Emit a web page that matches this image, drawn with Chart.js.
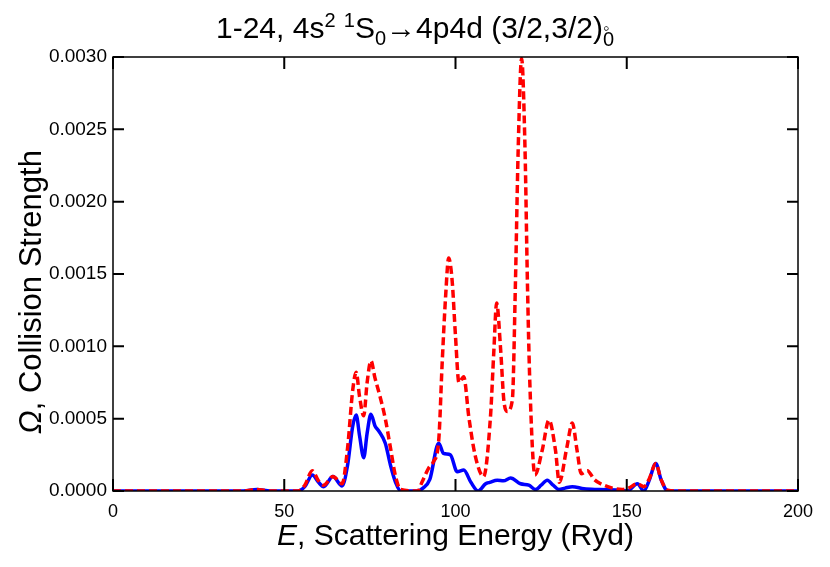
<!DOCTYPE html>
<html>
<head>
<meta charset="utf-8">
<script src="https://cdn.jsdelivr.net/npm/chart.js@4.4.1/dist/chart.umd.min.js"></script>
<style>
  html, body { margin: 0; padding: 0; background: #fff; }
  #wrap { width: 830px; height: 567px; }
</style>
</head>
<body>
<div id="wrap"><canvas id="myChart"></canvas></div>
<script>
// blue solid curve
const solidE = [0, 38, 42, 46, 54, 56, 58.2, 60, 61.5, 64.2, 66.9, 68.5, 70, 71, 72, 73.2, 74.2, 75.3, 76.5, 77.6,
  79.5, 81, 82.5, 84, 89, 90.5, 92.5, 95.1, 96.5, 98.5, 100.5, 102.4, 104.5, 106.6, 108.8, 110, 112.2, 114, 116.1, 119,
  121.4, 123.4, 125, 126.8, 128.5, 130.2, 132, 134.1, 137.5, 142, 148.7, 150.2, 153.1, 155, 156.5, 158.5, 160, 162, 200];
const solidOmega = [0, 0, 0.00001, 0, 0, 0.00003, 0.00011, 0.00006, 0.00003, 0.0001, 0.000035, 0.00018, 0.00045, 0.000525, 0.00038, 0.00023, 0.0004, 0.00053, 0.00045, 0.000415,
  0.00033, 0.00018, 0.00006, 0, 0, 0.00002, 0.00008, 0.00033, 0.00026, 0.00025, 0.000133, 0.000145, 0.00006, 0, 0.00005, 0.00006, 0.000075, 0.00007, 0.00009, 0.00005,
  0.00004, 0.00001, 0.00004, 0.000075, 0.00004, 0.00001, 0.00002, 0.00003, 0.000015, 0.00001, 0.000005, 0, 0.00005, 0, 0.00007, 0.00019, 0.00008, 0, 0];

// red dashed curve
const dashedE = [0, 38, 42, 46, 54, 56, 58.2, 60, 61.5, 64.2, 66.9, 68.5, 70, 71, 72, 73.2, 74.2, 75.3, 76.5, 78,
  79.5, 81, 82.5, 84, 89, 90.2, 92.2, 93.5, 95.1, 96.1, 97.1, 98, 99, 100, 101, 102.4, 103.9, 105.8, 108.2, 110.2,
  111.2, 112, 113.2, 114.1, 115.1, 116.6, 117.5, 118.3, 119.3, 120.3, 121, 121.7, 123.2, 125.3, 127.3, 129.2, 130.3, 132.5, 134.1, 135.5,
  136.7, 138.5, 140.5, 142.4, 145.8, 148.7, 150.5, 153.1, 155, 156.5, 158.5, 160, 162, 165, 200];
const dashedOmega = [0, 0, 0.00001, 0, 0, 0.00004, 0.00014, 0.00007, 0.00004, 0.0001, 0.00005, 0.0003, 0.0007, 0.00082, 0.00065, 0.00052, 0.00075, 0.0009, 0.00078, 0.00065,
  0.0005, 0.0003, 0.0001, 0.00001, 0, 0.00006, 0.00016, 0.0002, 0.00035, 0.00088, 0.00134, 0.00161, 0.00146, 0.00107, 0.00075, 0.00079, 0.00051, 0.00024, 0.0001, 0.00051,
  0.00097, 0.0013, 0.00097, 0.00063, 0.00055, 0.00063, 0.00144, 0.00236, 0.00299, 0.00236, 0.00144, 0.00075, 0.00011, 0.00028, 0.00049, 0.00028, 0.00006, 0.0003, 0.00047, 0.00028,
  0.00012, 0.00014, 0.00008, 0.00005, 0.00002, 0.00001, 0.00002, 0.00005, 0.00003, 0.00008, 0.00019, 0.00008, 0.000005, 0, 0];

const xTicks = [0, 50, 100, 150, 200];
const yTicks = [0, 0.0005, 0.001, 0.0015, 0.002, 0.0025, 0.003];

const FONT = '"Liberation Sans", Arial, Helvetica, sans-serif';

function pairs(xs, ys) {
  return xs.map((x, i) => ({ x: x, y: ys[i] }));
}

// draws text made of pieces: {t, s (size factor), dy (em shift), italic, stack}
function drawRich(ctx, parts, size, cx, cy, rotate) {
  ctx.save();
  ctx.translate(cx, cy);
  if (rotate) ctx.rotate(-Math.PI / 2);
  ctx.fillStyle = '#000';
  ctx.textBaseline = 'alphabetic';
  ctx.textAlign = 'left';
  let total = 0;
  let lastW = 0;
  parts.forEach(p => {
    ctx.font = (p.italic ? 'italic ' : '') + Math.round(size * (p.s || 1)) + 'px ' + FONT;
    const w = ctx.measureText(p.t).width;
    if (p.stack) { lastW = w; } else { total += Math.max(w, lastW); lastW = 0; }
  });
  let x = -total / 2;
  let stackW = 0;
  parts.forEach(p => {
    ctx.font = (p.italic ? 'italic ' : '') + Math.round(size * (p.s || 1)) + 'px ' + FONT;
    const w = ctx.measureText(p.t).width;
    ctx.fillText(p.t, x, (p.dy || 0) * size);
    if (p.stack) { stackW = w; } else { x += Math.max(w, stackW); stackW = 0; }
  });
  ctx.restore();
}

const framePlugin = {
  id: 'frame',
  afterDatasetsDraw(chart) {
    const { ctx, chartArea: a, scales } = chart;
    ctx.save();
    ctx.strokeStyle = '#000';
    ctx.lineWidth = 1.5;
    ctx.strokeRect(a.left, a.top, a.right - a.left, a.bottom - a.top);
    ctx.lineWidth = 2;
    ctx.beginPath();
    xTicks.forEach(v => {
      const px = scales.x.getPixelForValue(v);
      ctx.moveTo(px, a.bottom); ctx.lineTo(px, a.bottom - 12);
      ctx.moveTo(px, a.top); ctx.lineTo(px, a.top + 12);
    });
    yTicks.forEach(v => {
      const py = scales.y.getPixelForValue(v);
      ctx.moveTo(a.left, py); ctx.lineTo(a.left + 11, py);
      ctx.moveTo(a.right, py); ctx.lineTo(a.right - 11, py);
    });
    ctx.stroke();
    ctx.restore();
  },
  afterDraw(chart) {
    const { ctx, chartArea: a } = chart;
    drawRich(ctx, [
      { t: '1-24, 4s' }, { t: '2', s: 0.65, dy: -0.38 }, { t: ' ' },
      { t: '1', s: 0.65, dy: -0.38 }, { t: 'S' }, { t: '0', s: 0.65, dy: 0.22 },
      { t: '\u21924p4d (3/2,3/2)' },
      { t: '\u25E6', s: 0.6, dy: -0.12, stack: true }, { t: '0', s: 0.65, dy: 0.28 }
    ], 30, 415, 38, false);
    drawRich(ctx, [
      { t: 'E', italic: true }, { t: ', Scattering Energy (Ryd)' }
    ], 30, (a.left + a.right) / 2, 545, false);
    drawRich(ctx, [
      { t: '\u03A9', italic: true }, { t: ', Collision Strength' }
    ], 31, 41, 292, true);
  }
};

const ctx = document.getElementById('myChart');

new Chart(ctx, {
  type: 'line',
  data: {
    datasets: [{
      label: 'dashed',
      data: pairs(dashedE, dashedOmega),
      borderColor: '#ff0000',
      borderWidth: 3.5,
      borderDash: [8, 4],
      pointRadius: 0,
      cubicInterpolationMode: 'monotone',
      fill: false
    }, {
      label: 'solid',
      data: pairs(solidE, solidOmega),
      borderColor: '#0000ff',
      borderWidth: 3.5,
      pointRadius: 0,
      cubicInterpolationMode: 'monotone',
      fill: false
    }]
  },
  options: {
    responsive: true,
    maintainAspectRatio: false,
    animation: false,
    layout: { padding: { left: 0, right: 32, top: 57, bottom: 0 } },
    scales: {
      x: {
        type: 'linear',
        min: 0,
        max: 200,
        afterBuildTicks: s => { s.ticks = xTicks.map(v => ({ value: v })); },
        afterFit: s => { s.height = 76; },
        grid: { display: false, drawTicks: false },
        border: { display: false },
        ticks: { color: '#000', padding: 10, maxRotation: 0, font: { family: FONT, size: 18 } }
      },
      y: {
        min: 0,
        max: 0.003,
        afterBuildTicks: s => { s.ticks = yTicks.map(v => ({ value: v })); },
        afterFit: s => { s.width = 113; },
        grid: { display: false, drawTicks: false },
        border: { display: false },
        ticks: { color: '#000', padding: 6, font: { family: FONT, size: 19 }, callback: v => v.toFixed(4) }
      }
    },
    plugins: {
      legend: { display: false },
      tooltip: { enabled: false }
    }
  },
  plugins: [framePlugin]
});
</script>
</body>
</html>
